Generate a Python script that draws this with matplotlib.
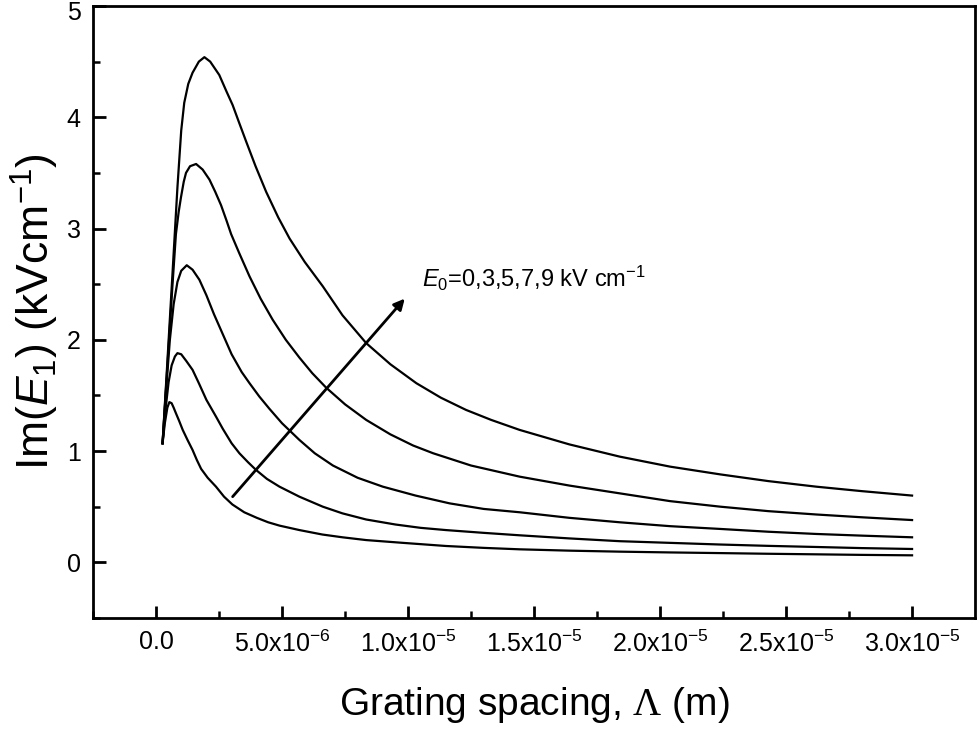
import matplotlib
matplotlib.use("Agg")
import matplotlib.pyplot as plt
import matplotlib.transforms as mtransforms
import numpy as np

plt.rcParams['font.family'] = ['Liberation Sans', 'DejaVu Sans']
plt.rcParams['mathtext.fontset'] = 'custom'
plt.rcParams['mathtext.rm'] = 'Liberation Sans'
plt.rcParams['mathtext.it'] = 'Liberation Sans:italic'
plt.rcParams['mathtext.sf'] = 'Liberation Serif'
plt.rcParams['axes.unicode_minus'] = False

# grating spacing in micrometres, Im(E1) in kV/cm, one curve per applied field E0
x_e0 = [0.26, 0.35, 0.45, 0.53, 0.62, 0.70, 0.79, 0.92, 1.06, 1.25, 1.45, 1.62, 1.79, 2.05, 2.38, 2.70,
        3.03, 3.50, 4.00, 4.45, 4.90, 5.69, 6.60, 7.40, 8.34, 9.80, 11.5, 13.0, 14.43, 16.4, 18.4,
        20.4, 22.4, 24.3, 26.2, 28.0, 30.0]
y_e0 = [1.07, 1.25, 1.39, 1.44, 1.43, 1.39, 1.34, 1.27, 1.19, 1.10, 1.01, 0.92, 0.84, 0.76, 0.68, 0.59,
        0.52, 0.45, 0.40, 0.36, 0.33, 0.29, 0.25, 0.225, 0.20, 0.175, 0.147, 0.13, 0.117, 0.105, 0.096,
        0.089, 0.083, 0.077, 0.072, 0.067, 0.063]

x_e3 = [0.26, 0.38, 0.50, 0.62, 0.75, 0.85, 1.00, 1.20, 1.45, 1.70, 2.00, 2.38, 2.65, 3.00, 3.31, 3.65,
        3.97, 4.40, 4.90, 5.69, 6.62, 7.40, 8.34, 9.50, 10.5, 11.5, 13.0, 14.43, 16.4, 18.4, 20.4,
        22.4, 24.3, 26.2, 28.0, 30.0]
y_e3 = [1.07, 1.38, 1.62, 1.77, 1.85, 1.88, 1.87, 1.81, 1.73, 1.61, 1.46, 1.31, 1.20, 1.07, 0.98, 0.90,
        0.83, 0.75, 0.68, 0.59, 0.50, 0.44, 0.385, 0.34, 0.31, 0.29, 0.265, 0.243, 0.215, 0.19, 0.175,
        0.16, 0.148, 0.138, 0.128, 0.12]

x_e5 = [0.26, 0.40, 0.55, 0.70, 0.85, 1.00, 1.22, 1.45, 1.72, 2.00, 2.30, 2.65, 3.00, 3.40, 3.71, 4.10,
        4.50, 5.00, 5.69, 6.30, 7.02, 8.00, 9.00, 10.3, 11.65, 13.0, 14.43, 16.4, 18.4, 20.4, 22.4,
        24.3, 26.2, 28.0, 30.0]
y_e5 = [1.07, 1.55, 2.00, 2.32, 2.52, 2.62, 2.67, 2.63, 2.54, 2.40, 2.23, 2.05, 1.87, 1.71, 1.61, 1.49,
        1.38, 1.25, 1.10, 0.98, 0.87, 0.76, 0.68, 0.60, 0.53, 0.48, 0.45, 0.40, 0.36, 0.325, 0.30,
        0.275, 0.255, 0.24, 0.225]

x_e7 = [0.26, 0.45, 0.65, 0.79, 0.90, 0.99, 1.10, 1.19, 1.35, 1.59, 1.85, 2.12, 2.35, 2.58, 2.80, 2.98,
        3.30, 3.71, 4.15, 4.63, 5.15, 5.69, 6.20, 6.75, 7.50, 8.34, 9.30, 10.2, 11.0, 12.5, 14.43,
        16.4, 18.4, 20.4, 22.4, 24.3, 26.2, 28.0, 30.0]
y_e7 = [1.07, 1.76, 2.48, 2.95, 3.15, 3.28, 3.42, 3.50, 3.56, 3.58, 3.53, 3.44, 3.33, 3.21, 3.07, 2.95,
        2.78, 2.57, 2.37, 2.18, 2.00, 1.84, 1.70, 1.57, 1.42, 1.28, 1.15, 1.05, 0.98, 0.87, 0.77,
        0.69, 0.62, 0.55, 0.50, 0.46, 0.43, 0.405, 0.38]

x_e9 = [0.26, 0.45, 0.65, 0.85, 1.00, 1.12, 1.28, 1.45, 1.70, 1.92, 2.15, 2.51, 2.80, 3.04, 3.30, 3.58,
        3.95, 4.37, 4.85, 5.30, 5.90, 6.62, 7.40, 8.34, 9.30, 10.33, 11.3, 12.3, 13.3, 14.43, 16.4,
        18.4, 20.4, 22.4, 24.3, 26.2, 28.0, 30.0]
y_e9 = [1.07, 1.80, 2.58, 3.37, 3.88, 4.13, 4.30, 4.40, 4.50, 4.54, 4.50, 4.38, 4.23, 4.11, 3.95, 3.78,
        3.56, 3.33, 3.10, 2.91, 2.70, 2.48, 2.22, 1.97, 1.78, 1.61, 1.48, 1.37, 1.28, 1.19, 1.06,
        0.95, 0.86, 0.79, 0.73, 0.68, 0.64, 0.60]

xticks = [0, 5e-6, 1e-5, 1.5e-5, 2e-5, 2.5e-5, 3e-5]
xtick_labels = ['0.0', r'5.0x10$^{-6}$', r'1.0x10$^{-5}$', r'1.5x10$^{-5}$',
                r'2.0x10$^{-5}$', r'2.5x10$^{-5}$', r'3.0x10$^{-5}$']
yticks = [0, 1, 2, 3, 4, 5]

fig = plt.figure(figsize=(9.78, 7.29), dpi=100)
ax = fig.add_axes([0.0951, 0.1523, 0.9019, 0.8395])

for xs, ys in [(x_e0, y_e0), (x_e3, y_e3), (x_e5, y_e5), (x_e7, y_e7), (x_e9, y_e9)]:
    ax.plot(np.array(xs) * 1e-6, ys, color='black', lw=1.6, solid_joinstyle='round')

# arrow showing increasing E0
ax.annotate('', xy=(9.87e-6, 2.37), xytext=(3.04e-6, 0.59),
            arrowprops=dict(arrowstyle='-|>', color='black', lw=2,
                            mutation_scale=16, shrinkA=0, shrinkB=0))
ax.text(10.55e-6, 2.55, r'$\it{E}_0$=0,3,5,7,9 kV cm$^{-1}$', fontsize=17,
        va='center', ha='left')

ax.set_xlim(-2.5e-6, 3.25e-5)
ax.set_ylim(-0.5, 5)
ax.set_xticks(xticks)
ax.set_xticklabels(xtick_labels)
ax.set_xticks(np.arange(-2.5e-6, 3.1e-5, 5e-6), minor=True)
ax.set_yticks(yticks)
ax.set_yticks(np.arange(-0.5, 5, 1.0), minor=True)

ax.tick_params(which='both', direction='in', top=False, right=False)
ax.tick_params(which='major', length=9, width=2, labelsize=18, pad=9)
ax.tick_params(which='minor', length=5, width=1.8)
for sp in ax.spines.values():
    sp.set_linewidth(2)

# nudge the top "5" down so it stays inside the figure
top_lbl = ax.get_yticklabels()[-1]
top_lbl.set_transform(top_lbl.get_transform() +
                      mtransforms.ScaledTranslation(0, -3 / 72, fig.dpi_scale_trans))

ax.set_xlabel(r'Grating spacing, $\mathsf{\Lambda}$ (m)', fontsize=28, labelpad=20)
ax.set_ylabel(r'Im($\it{E}_1$) (kVcm$^{-1}$)', fontsize=32, labelpad=4)

fig.savefig('out.png', dpi=100)
